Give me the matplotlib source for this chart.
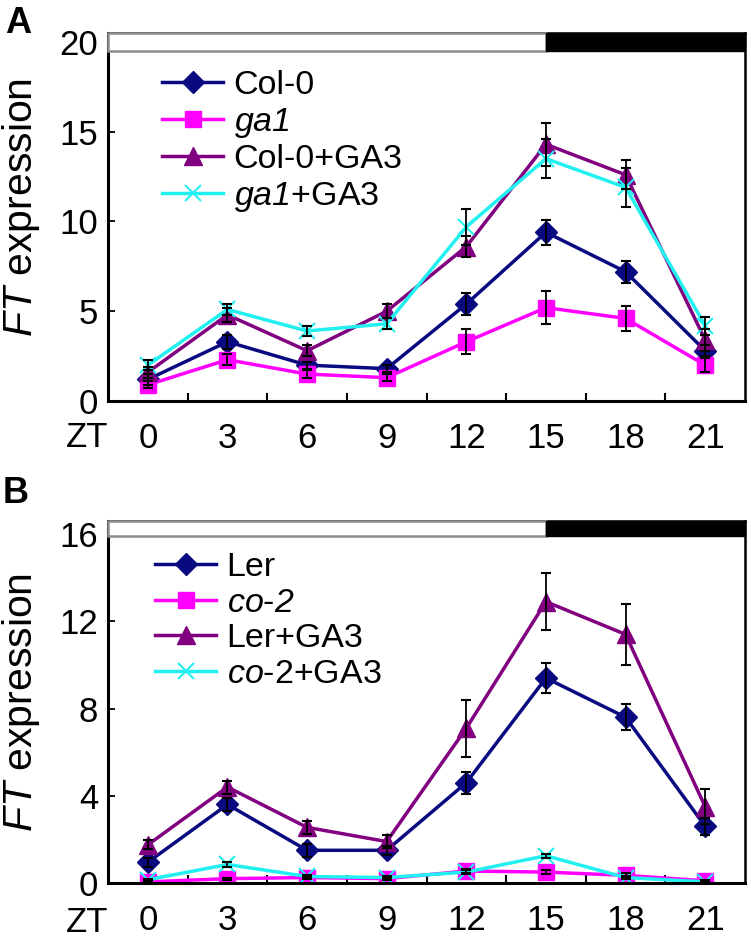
import matplotlib
matplotlib.use("Agg")
import matplotlib.pyplot as plt
from matplotlib.patches import Rectangle
from matplotlib.lines import Line2D

plt.rcParams['font.family'] = ['Liberation Sans', 'DejaVu Sans']
plt.rcParams['mathtext.fontset'] = 'custom'
plt.rcParams['mathtext.it'] = 'Liberation Sans:italic'
plt.rcParams['mathtext.rm'] = 'Liberation Sans:italic'
plt.rcParams['mathtext.sf'] = 'Liberation Sans'

# ---------------- data ----------------
zt = [0, 3, 6, 9, 12, 15, 18, 21]
light_end = 15

# Panel A
colA = [1.2, 3.3, 2.0, 1.8, 5.4, 9.4, 7.2, 2.8]
colA_err = [0.3, 0.4, 0.2, 0.2, 0.6, 0.7, 0.6, 0.3]
ga1 = [0.9, 2.3, 1.5, 1.3, 3.3, 5.2, 4.6, 2.0]
ga1_err = [0.2, 0.3, 0.2, 0.2, 0.7, 0.9, 0.7, 0.4]
colA_ga3 = [1.6, 4.8, 2.8, 5.0, 8.6, 14.3, 12.6, 3.4]
colA_ga3_err = [0.3, 0.4, 0.3, 0.4, 0.6, 1.2, 0.8, 0.6]
ga1_ga3 = [2.0, 5.1, 3.9, 4.3, 9.7, 13.5, 11.9, 4.2]
ga1_ga3_err = [0.3, 0.3, 0.3, 0.3, 1.0, 1.1, 1.1, 0.5]

# Panel B
ler = [0.95, 3.6, 1.5, 1.5, 4.6, 9.4, 7.6, 2.6]
ler_err = [0.2, 0.3, 0.3, 0.2, 0.5, 0.7, 0.6, 0.4]
co2 = [0.05, 0.2, 0.25, 0.2, 0.55, 0.5, 0.35, 0.1]
co2_err = [0.02, 0.05, 0.05, 0.05, 0.1, 0.1, 0.1, 0.05]
ler_ga3 = [1.75, 4.4, 2.55, 1.9, 7.1, 12.9, 11.4, 3.5]
ler_ga3_err = [0.2, 0.3, 0.3, 0.3, 1.3, 1.3, 1.4, 0.8]
co2_ga3 = [0.15, 0.85, 0.3, 0.25, 0.5, 1.25, 0.25, 0.05]
co2_ga3_err = [0.05, 0.1, 0.05, 0.05, 0.1, 0.1, 0.05, 0.02]

labelsA = ['Col-0', r'$ga1$', 'Col-0+GA3', r'$ga1$+GA3']
labelsB = ['Ler', r'$co$-$2$', 'Ler+GA3', r'$co$-2+GA3']

NAVY = '#0a0a80'
MAGENTA = '#ff00ff'
PURPLE = '#800080'
CYAN = '#22f0f0'

styles = [
    dict(color=NAVY, marker='D', ms=11, lw=2.5),
    dict(color=MAGENTA, marker='s', ms=12, lw=2.5),
    dict(color=PURPLE, marker='^', ms=13, lw=2.5),
    dict(color=CYAN, marker='x', ms=12, lw=2.5, mew=1.5),
]

TICK_FS = 25
LEG_FS = 24.5

fig = plt.figure(figsize=(7.51, 9.39), dpi=100)
axA = fig.add_axes([108/751, 1-401/939, 637/751, 368/939])
axB = fig.add_axes([108/751, 1-883/939, 637/751, 362/939])


def draw(ax, series, errs, labels, ytop, bar_bottom, yticks, leg_x, leg_y, zt_y, ylab_y):
    xmin, xmax = -1.5, 22.5
    for s, e in zip(series, errs):
        ax.errorbar(zt, s, yerr=e, fmt='none', ecolor='black', elinewidth=1.3,
                    capsize=3.5, capthick=1.5, zorder=3)
    for s, st in zip(series, styles):
        ax.plot(zt, s, color=st['color'], lw=st['lw'], marker=st['marker'],
                ms=st['ms'], mew=st.get('mew', 1), zorder=2.5)
    ax.set_xlim(xmin, xmax)
    ax.set_ylim(0, ytop)
    # light/dark bar
    ax.add_patch(Rectangle((xmin, bar_bottom), light_end - xmin, ytop - bar_bottom,
                           facecolor='white', edgecolor='#8c8c8c', lw=1.8, zorder=4,
                           clip_on=False))
    ax.add_patch(Rectangle((light_end, bar_bottom), xmax - light_end, ytop - bar_bottom,
                           facecolor='black', edgecolor='black', lw=1, zorder=4,
                           clip_on=False))
    ax.set_xticks(zt)
    ax.set_xticklabels([str(z) for z in zt])
    ax.set_xticks([z + 1.5 for z in zt[:-1]], minor=True)
    ax.tick_params(axis='x', which='major', length=0, pad=15, labelsize=TICK_FS)
    ax.tick_params(axis='x', which='minor', direction='in', length=6, width=1.5)
    ax.set_yticks(yticks)
    ax.tick_params(axis='y', which='major', direction='in', length=5, width=1.3,
                   pad=7, labelsize=TICK_FS)
    for sp in ['left', 'bottom']:
        ax.spines[sp].set_linewidth(2.2)
    for sp in ['right', 'top']:
        ax.spines[sp].set_linewidth(1.8)
    ax.text(-0.033, zt_y, 'ZT', transform=ax.transAxes, ha='center', va='center',
            fontsize=TICK_FS)
    ax.set_ylabel(r'$FT$ expression', fontsize=29.5)
    ax.yaxis.set_label_coords(-0.104, ylab_y)
    handles = [Line2D([], [], color=st['color'], lw=st['lw'], marker=st['marker'],
                      ms=st['ms'], mew=st.get('mew', 1)) for st in styles]
    ax.legend(handles, labels, loc='upper left', bbox_to_anchor=(leg_x, leg_y),
              frameon=False, fontsize=LEG_FS, handlelength=1.8, handletextpad=0.3,
              labelspacing=0.14, borderpad=0, borderaxespad=0)


draw(axA, [colA, ga1, colA_ga3, ga1_ga3], [colA_err, ga1_err, colA_ga3_err, ga1_ga3_err],
     labelsA, 20.5, 19.5, [0, 5, 10, 15, 20], 0.085, 0.90, -0.10, 0.525)
draw(axB, [ler, co2, ler_ga3, co2_ga3], [ler_err, co2_err, ler_ga3_err, co2_ga3_err],
     labelsB, 16.6, 15.9, [0, 4, 8, 12, 16], 0.074, 0.915, -0.108, 0.5)

fig.text(5/751, 1-6/939, 'A', fontsize=26, fontweight='bold', va='top', ha='left')
fig.text(3/751, 1-476/939, 'B', fontsize=26, fontweight='bold', va='top', ha='left')

fig.savefig('out.png', dpi=100)
